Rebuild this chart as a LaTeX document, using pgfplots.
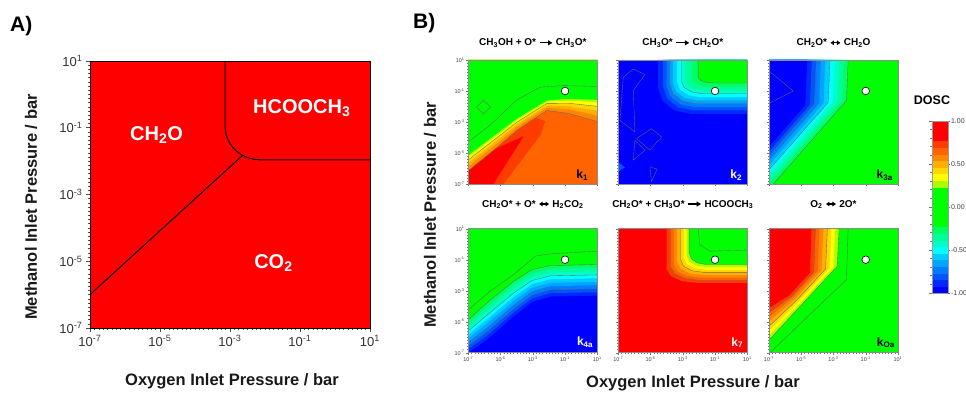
\documentclass[border=0pt]{standalone}
\usepackage{pgfplots}
\pgfplotsset{compat=1.18}
\usetikzlibrary{arrows.meta}
\usepackage{fontspec}
\setmainfont{Liberation Sans}
\newcommand{\sub}[1]{\textsubscript{#1}}
\newcommand{\pw}[1]{10\textsuperscript{#1}}
\newcommand{\ra}{\tikz[baseline=-0.6ex]\draw[line width=1.3pt,-{Triangle[length=4.5pt,width=5pt]}] (0,0)--(13pt,0);}
\newcommand{\lr}{\tikz[baseline=-0.6ex]\draw[line width=1.2pt,{Triangle[length=3.5pt,width=4.5pt]}-{Triangle[length=3.5pt,width=4.5pt]}] (0,0)--(10pt,0);}
\newcommand{\reg}[2]{\addplot[fill=#1, draw=none] coordinates {#2} -- cycle;}
\newcommand{\cl}[1]{\addplot[black!60, line width=0.35pt] coordinates {#1};}
\definecolor{b1}{RGB}{0,0,255}
\definecolor{b2}{RGB}{0,40,255}
\definecolor{b3}{RGB}{0,85,255}
\definecolor{b4}{RGB}{0,125,255}
\definecolor{b5}{RGB}{0,165,255}
\definecolor{b6}{RGB}{0,205,255}
\definecolor{b7}{RGB}{0,255,255}
\definecolor{b8}{RGB}{0,255,200}
\definecolor{b9}{RGB}{0,255,155}
\definecolor{b10}{RGB}{0,255,100}
\definecolor{gg}{RGB}{0,255,0}
\definecolor{r1}{RGB}{170,255,0}
\definecolor{r2}{RGB}{255,255,0}
\definecolor{r3}{RGB}{255,215,0}
\definecolor{r4}{RGB}{255,175,0}
\definecolor{r5}{RGB}{255,135,0}
\definecolor{r6}{RGB}{255,100,0}
\definecolor{r7}{RGB}{255,60,0}
\definecolor{r8}{RGB}{255,0,0}
\tikzset{klab/.style={anchor=south east, inner sep=0pt, font=\bfseries\fontsize{12}{12}\selectfont}}
\pgfplotsset{
  colormap={dosc}{
    rgb255=(0,0,255) rgb255=(0,40,255) rgb255=(0,85,255) rgb255=(0,125,255)
    rgb255=(0,165,255) rgb255=(0,205,255) rgb255=(0,255,255) rgb255=(0,255,200)
    rgb255=(0,255,155) rgb255=(0,255,100) rgb255=(0,255,0) rgb255=(0,255,0)
    rgb255=(0,255,0) rgb255=(0,255,0) rgb255=(0,255,0) rgb255=(0,255,0)
    rgb255=(170,255,0) rgb255=(255,255,0) rgb255=(255,215,0) rgb255=(255,175,0)
    rgb255=(255,135,0) rgb255=(255,100,0) rgb255=(255,60,0) rgb255=(255,0,0)
    rgb255=(255,0,0) rgb255=(255,0,0)
  },
  dpanel/.style={
    scale only axis, width=129pt, height=124pt,
    xmin=-7, xmax=1, ymin=-7, ymax=1,
    xtick={-7,-5,-3,-1,1}, ytick={-7,-5,-3,-1,1},
    xticklabels={}, yticklabels={},
    minor tick num=9,
    tick align=outside, xtick pos=left, ytick pos=left,
    major tick length=2pt, minor tick length=1.2pt,
    tick style={black!55, line width=0.3pt},
    axis line style={black!45, line width=0.4pt},
    tick label style={font=\fontsize{5.5}{6}\selectfont, text=black!75, inner sep=1.5pt},
    title style={at={(0.5,1)}, anchor=base, yshift=8pt, inner sep=0pt, font=\bfseries\fontsize{10}{10}\selectfont},
    axis on top, clip=true,
  },
  ylabs/.style={yticklabels={\pw{-7},\pw{-5},\pw{-3},\pw{-1},\pw{1}}},
  xlabs/.style={xticklabels={\pw{-7},\pw{-5},\pw{-3},\pw{-1},\pw{1}}},
  dot/.style={only marks, mark=*, mark size=3.8pt, mark options={fill=white, draw=black, line width=0.6pt}},
}
\begin{document}
\begin{tikzpicture}
\useasboundingbox (0,0) rectangle (966pt,395pt);
% ---------------- Panel A ----------------
\begin{axis}[name=A, at={(90pt,67pt)}, anchor=south west, scale only axis,
  width=280pt, height=267pt,
  xmin=-7, xmax=1, ymin=-7, ymax=1,
  xtick={-7,-5,-3,-1,1}, ytick={-7,-5,-3,-1,1},
  xticklabels={\pw{-7},\pw{-5},\pw{-3},\pw{-1},\pw{1}},
  yticklabels={\pw{-7},\pw{-5},\pw{-3},\pw{-1},\pw{1}},
  minor tick num=15, tick align=outside, xtick pos=left, ytick pos=left,
  major tick length=4pt, minor tick length=2.5pt,
  tick style={black!70, line width=0.5pt},
  tick label style={font=\fontsize{13}{13}\selectfont, text=black!80},
  axis line style={black, line width=0.9pt}, axis on top]
\reg{red}{(-7,-7) (1,-7) (1,1) (-7,1)}
\addplot[black, line width=1pt] coordinates {(-7,-6) (-2.64,-1.827)};
\addplot[black, line width=1pt] coordinates {(-3.14,1) (-3.14,-0.97) (-3.125,-1.142) (-3.080,-1.309) (-3.006,-1.465) (-2.906,-1.607) (-2.783,-1.728) (-2.64,-1.827) (-2.482,-1.901) (-2.314,-1.945) (-2.14,-1.96) (1,-1.96)};
\node[text=white, font=\bfseries\fontsize{20}{20}\selectfont] at (axis cs:-5.1,-1.21) {CH\sub{2}O};
\node[text=white, font=\bfseries\fontsize{20}{20}\selectfont] at (axis cs:-0.95,-0.42) {HCOOCH\sub{3}};
\node[text=white, font=\bfseries\fontsize{20}{20}\selectfont] at (axis cs:-1.76,-5.05) {CO\sub{2}};
\end{axis}
% ---------------- k1 ----------------
\begin{axis}[dpanel, name=k1, at={(468.3pt,211pt)}, anchor=south west, ylabs,
  title={CH\sub{3}OH + O* \ra{} CH\sub{3}O*}]
\reg{r6}{(-7,-7) (1,-7) (1,1) (-7,1)}
\reg{r7}{(-7,-7) (-7,-4) (-3.2,-2.6) (-2.22,-2.94) (-2.53,-3.86) (-4.82,-7)}
\reg{r8}{(-7,-7) (-7,-5.5) (-3.57,-3.92) (-5.44,-7)}
\reg{r5}{(-7,-6.14) (-5.23,-4.65) (-3.99,-3.54) (-3.15,-2.95) (-2.11,-2.26) (-0.76,-2.45) (1,-2.97) (1,1) (-7,1)}
\reg{r4}{(-7,-5.86) (-5.23,-4.40) (-3.99,-3.33) (-3.15,-2.75) (-2.11,-2.08) (-0.76,-2.18) (1,-2.58) (1,1) (-7,1)}
\reg{r3}{(-7,-5.64) (-5.23,-4.20) (-3.99,-3.17) (-3.15,-2.60) (-2.11,-1.94) (-0.76,-1.98) (1,-2.27) (1,1) (-7,1)}
\reg{r2}{(-7,-5.44) (-5.23,-4.02) (-3.99,-3.02) (-3.15,-2.46) (-2.11,-1.80) (-0.76,-1.79) (1,-1.99) (1,1) (-7,1)}
\reg{r1}{(-7,-5.26) (-5.23,-3.86) (-3.99,-2.88) (-3.15,-2.33) (-2.11,-1.69) (-0.76,-1.61) (1,-1.74) (1,1) (-7,1)}
\reg{gg}{(-7,-5.14) (-5.23,-3.75) (-3.99,-2.79) (-3.15,-2.25) (-2.11,-1.61) (-0.76,-1.50) (1,-1.57) (1,1) (-7,1)}
\cl{(-7,-4.28) (-5.65,-3.21) (-3.99,-1.57) (-2.53,-0.75) (-1.07,-0.65) (1,-0.71)}
\cl{(-7,-5.44) (-5.23,-4.02) (-3.99,-3.02) (-3.15,-2.46) (-2.11,-1.80) (-0.76,-1.79) (1,-1.99)}
\cl{(-7,-6.14) (-5.23,-4.65) (-3.99,-3.54) (-3.15,-2.95) (-2.11,-2.26) (-0.76,-2.45) (1,-2.97)}
\cl{(-6.5,-2.04) (-6.06,-1.6) (-5.62,-2.04) (-6.06,-2.48) (-6.5,-2.04)}
\addplot[dot] coordinates {(-1,-1)};
\end{axis}
\node[klab] at ([xshift=-9pt,yshift=3.5pt]k1.south east) {k\sub{1}};
% ---------------- k2 ----------------
\begin{axis}[dpanel, name=k2, at={(618.3pt,211pt)}, anchor=south west,
  title={CH\sub{3}O* \ra{} CH\sub{2}O*}]
\reg{b1}{(-7,-7) (1,-7) (1,1) (-7,1)}
\reg{b3}{(-7,-5.57) (-6.59,-5.93) (-7,-6.2)}
\reg{b2}{(-4.53,1) (-4.53,-0.80) (-4.26,-1.64) (-3.53,-2.25) (-2.53,-2.47) (1,-2.47) (1,1)}
\reg{b3}{(-4.22,1) (-4.22,-0.72) (-3.97,-1.49) (-3.28,-2.05) (-2.34,-2.25) (1,-2.25) (1,1)}
\reg{b4}{(-4.01,1) (-4.01,-0.66) (-3.77,-1.35) (-3.13,-1.86) (-2.24,-2.04) (1,-2.04) (1,1)}
\reg{b5}{(-3.80,1) (-3.80,-0.58) (-3.58,-1.20) (-2.98,-1.65) (-2.15,-1.82) (1,-1.82) (1,1)}
\reg{b6}{(-3.60,1) (-3.60,-0.51) (-3.40,-1.06) (-2.84,-1.46) (-2.07,-1.61) (1,-1.61) (1,1)}
\reg{b7}{(-3.35,1) (-3.35,-0.45) (-3.16,-0.93) (-2.64,-1.27) (-1.93,-1.40) (1,-1.40) (1,1)}
\reg{b8}{(-3.08,1) (-3.08,-0.37) (-2.91,-0.78) (-2.43,-1.07) (-1.78,-1.18) (1,-1.18) (1,1)}
\reg{b9}{(-2.81,1) (-2.81,-0.30) (-2.65,-0.64) (-2.22,-0.88) (-1.63,-0.97) (1,-0.97) (1,1)}
\reg{b10}{(-2.46,1) (-2.46,-0.23) (-2.32,-0.49) (-1.93,-0.68) (-1.39,-0.75) (1,-0.75) (1,1)}
\reg{gg}{(-2.05,1) (-2.05,-0.10) (-1.92,-0.29) (-1.58,-0.43) (-1.10,-0.48) (1,-0.48) (1,1)}
\cl{(-2.05,1) (-2.05,-0.10) (-1.92,-0.29) (-1.58,-0.43) (-1.10,-0.48) (1,-0.48)}
\cl{(-3.08,1) (-3.08,-0.37) (-2.91,-0.78) (-2.43,-1.07) (-1.78,-1.18) (1,-1.18)}
\cl{(-3.80,1) (-3.80,-0.58) (-3.58,-1.20) (-2.98,-1.65) (-2.15,-1.82) (1,-1.82)}
\cl{(-6.69,-0.11) (-6.07,0.42) (-5.35,0.06) (-6.07,-0.97) (-5.97,-3.64) (-6.90,-2.89) (-6.69,-0.11)}
\cl{(-5.87,-4.07) (-4.94,-3.43) (-4.32,-3.96) (-5.04,-4.82) (-5.87,-4.07)}
\cl{(-5.97,-4.18) (-5.35,-4.82) (-6.07,-5.46) (-5.97,-4.18)}
\cl{(-5.04,-5.89) (-4.59,-6.04) (-4.94,-6.85) (-5.04,-5.89)}
\addplot[dot] coordinates {(-1,-1)};
\end{axis}
\node[klab, text=white] at ([xshift=-5pt,yshift=3.5pt]k2.south east) {k\sub{2}};
% ---------------- k3a ----------------
\begin{axis}[dpanel, name=k3, at={(769pt,211pt)}, anchor=south west,
  title={CH\sub{2}O* \lr{} CH\sub{2}O},
  colormap name=dosc, colormap access=piecewise constant,
  point meta min=-1, point meta max=1,
  colorbar,
  colorbar style={at={(parent axis.north east)}, anchor=north west,
    xshift=25.3pt, yshift=-60.7pt, scale only axis, width=16pt, height=172pt,
    ytick={-1,-0.5,0,0.5,1}, yticklabels={-1.00,-0.50,0.00,0.50,1.00},
    minor y tick num=4, tick align=outside,
    major tick length=2.5pt, minor tick length=1.5pt,
    tick style={black!55, line width=0.3pt},
    axis line style={black!40, line width=0.3pt},
    yticklabel style={font=\fontsize{7}{7}\selectfont, text=black!75, inner sep=0.5pt}}]
\reg{gg}{(-7,-7) (1,-7) (1,1) (-7,1)}
\reg{b10}{(-7,1) (-2.09,1) (-2.19,-1.61) (-6.73,-7) (-7,-7)}
\reg{b9}{(-7,1) (-2.37,1) (-2.47,-1.64) (-7,-6.97)}
\reg{b8}{(-7,1) (-2.65,1) (-2.76,-1.67) (-7,-6.68)}
\reg{b7}{(-7,1) (-2.94,1) (-3.04,-1.71) (-7,-6.38)}
\reg{b6}{(-7,1) (-3.22,1) (-3.33,-1.74) (-7,-6.08)}
\reg{b5}{(-7,1) (-3.50,1) (-3.61,-1.77) (-7,-5.79)}
\reg{b4}{(-7,1) (-3.78,1) (-3.89,-1.80) (-7,-5.49)}
\reg{b3}{(-7,1) (-4.07,1) (-4.18,-1.83) (-7,-5.19)}
\reg{b2}{(-7,1) (-4.35,1) (-4.46,-1.87) (-7,-4.90)}
\reg{b1}{(-7,1) (-4.63,1) (-4.75,-1.90) (-7,-4.60)}
\cl{(-2.09,1) (-2.19,-1.61) (-6.73,-7)}
\cl{(-3.22,1) (-3.33,-1.74) (-7,-6.08)}
\cl{(-4.07,1) (-4.18,-1.83) (-7,-5.19)}
\cl{(-7,0.3) (-5.5,-1.0) (-7,-1.8)}
\addplot[dot] coordinates {(-1,-1)};
\end{axis}
\node[klab] at ([xshift=-5pt,yshift=3.5pt]k3.south east) {k\sub{3a}};
% ---------------- k4a ----------------
\begin{axis}[dpanel, name=k4, at={(468.3pt,42.3pt)}, anchor=south west, ylabs, xlabs,
  title style={yshift=7.5pt}, title={CH\sub{2}O* + O* \lr{} H\sub{2}CO\sub{2}}]
\reg{b1}{(-7,-7) (1,-7) (1,1) (-7,1)}
\reg{b2}{(-7,-7.00) (-5.86,-6.18) (-4.19,-4.66) (-3.05,-3.73) (-1.91,-3.37) (1,-3.32) (1,1) (-7,1)}
\reg{b3}{(-7,-6.76) (-5.86,-5.92) (-4.19,-4.41) (-3.05,-3.50) (-1.91,-3.15) (1,-3.10) (1,1) (-7,1)}
\reg{b4}{(-7,-6.53) (-5.86,-5.65) (-4.19,-4.16) (-3.05,-3.27) (-1.91,-2.93) (1,-2.87) (1,1) (-7,1)}
\reg{b5}{(-7,-6.29) (-5.86,-5.39) (-4.19,-3.90) (-3.05,-3.03) (-1.91,-2.71) (1,-2.65) (1,1) (-7,1)}
\reg{b6}{(-7,-6.06) (-5.86,-5.12) (-4.19,-3.65) (-3.05,-2.80) (-1.91,-2.49) (1,-2.43) (1,1) (-7,1)}
\reg{b7}{(-7,-5.82) (-5.86,-4.86) (-4.19,-3.40) (-3.05,-2.57) (-1.91,-2.26) (1,-2.20) (1,1) (-7,1)}
\reg{b8}{(-7,-5.59) (-5.86,-4.59) (-4.19,-3.15) (-3.05,-2.34) (-1.91,-2.04) (1,-1.98) (1,1) (-7,1)}
\reg{b9}{(-7,-5.35) (-5.86,-4.33) (-4.19,-2.89) (-3.05,-2.10) (-1.91,-1.82) (1,-1.76) (1,1) (-7,1)}
\reg{b10}{(-7,-5.12) (-5.86,-4.06) (-4.19,-2.64) (-3.05,-1.87) (-1.91,-1.60) (1,-1.53) (1,1) (-7,1)}
\reg{gg}{(-7,-4.88) (-5.86,-3.80) (-4.19,-2.39) (-3.05,-1.64) (-1.91,-1.38) (1,-1.31) (1,1) (-7,1)}
\cl{(-7,-4.23) (-5.65,-3.04) (-4.19,-1.96) (-2.84,-0.77) (-1.91,-0.62) (1,-0.45)}
\cl{(-7,-4.88) (-5.86,-3.80) (-4.19,-2.39) (-3.05,-1.64) (-1.91,-1.38) (1,-1.31)}
\cl{(-7,-5.59) (-5.86,-4.59) (-4.19,-3.15) (-3.05,-2.34) (-1.91,-2.04) (1,-1.98)}
\cl{(-7,-6.53) (-5.86,-5.65) (-4.19,-4.16) (-3.05,-3.27) (-1.91,-2.93) (1,-2.87)}
\addplot[dot] coordinates {(-1,-1)};
\end{axis}
\node[klab, text=white] at ([xshift=-4pt,yshift=5pt]k4.south east) {k\sub{4a}};
% ---------------- k7 ----------------
\begin{axis}[dpanel, name=k7, at={(618.3pt,42.3pt)}, anchor=south west, xlabs,
  title style={yshift=7.5pt}, title={CH\sub{2}O* + CH\sub{3}O* \ra{} HCOOCH\sub{3}}]
\reg{r8}{(-7,-7) (1,-7) (1,1) (-7,1)}
\reg{r7}{(-4.01,1) (-4.01,-1.60) (-3.75,-2.05) (-3.06,-2.38) (-2.11,-2.50) (1,-2.50) (1,1)}
\reg{r6}{(-3.76,1) (-3.76,-1.45) (-3.52,-1.89) (-2.87,-2.21) (-1.98,-2.33) (1,-2.33) (1,1)}
\reg{r5}{(-3.56,1) (-3.56,-1.30) (-3.34,-1.73) (-2.73,-2.05) (-1.90,-2.16) (1,-2.16) (1,1)}
\reg{r4}{(-3.35,1) (-3.35,-1.15) (-3.14,-1.57) (-2.58,-1.88) (-1.81,-1.99) (1,-1.99) (1,1)}
\reg{r3}{(-3.14,1) (-3.14,-1.01) (-2.95,-1.42) (-2.43,-1.71) (-1.71,-1.82) (1,-1.82) (1,1)}
\reg{r2}{(-2.94,1) (-2.94,-0.86) (-2.76,-1.26) (-2.29,-1.54) (-1.63,-1.65) (1,-1.65) (1,1)}
\reg{r1}{(-2.77,1) (-2.77,-0.71) (-2.61,-1.10) (-2.18,-1.38) (-1.58,-1.48) (1,-1.48) (1,1)}
\reg{gg}{(-2.61,1) (-2.61,-0.56) (-2.47,-0.94) (-2.08,-1.21) (-1.54,-1.31) (1,-1.31) (1,1)}
\cl{(-2.05,1) (-1.95,-0.02) (-1.33,-0.45) (1,-0.38)}
\cl{(-2.61,1) (-2.61,-0.56) (-2.47,-0.94) (-2.08,-1.21) (-1.54,-1.31) (1,-1.31)}
\cl{(-3.14,1) (-3.14,-1.01) (-2.95,-1.42) (-2.43,-1.71) (-1.71,-1.82) (1,-1.82)}
\cl{(-3.76,1) (-3.76,-1.45) (-3.52,-1.89) (-2.87,-2.21) (-1.98,-2.33) (1,-2.33)}
\addplot[dot] coordinates {(-1,-1)};
\end{axis}
\node[klab, text=white] at ([xshift=-4pt,yshift=4.5pt]k7.south east) {k\sub{7}};
% ---------------- kOa ----------------
\begin{axis}[dpanel, name=kO, at={(769pt,42.3pt)}, anchor=south west, xlabs,
  title style={yshift=7.5pt}, title={O\sub{2} \lr{} 2O*}]
\reg{gg}{(-7,-7) (1,-7) (1,1) (-7,1)}
\reg{r1}{(-7,1) (-2.65,1) (-2.77,-1.42) (-4.885,-3.80) (-7,-6.18)}
\reg{r2}{(-7,1) (-2.89,1) (-3.01,-1.48) (-5.01,-3.73) (-7,-5.89)}
\reg{r3}{(-7,1) (-3.14,1) (-3.25,-1.54) (-5.13,-3.65) (-7,-5.59)}
\reg{r4}{(-7,1) (-3.38,1) (-3.49,-1.60) (-5.25,-3.58) (-7,-5.30)}
\reg{r5}{(-7,1) (-3.63,1) (-3.74,-1.67) (-5.37,-3.51) (-7,-5.00)}
\reg{r6}{(-7,1) (-3.87,1) (-3.98,-1.73) (-5.49,-3.43) (-7,-4.71)}
\reg{r7}{(-7,1) (-4.12,1) (-4.22,-1.79) (-5.61,-3.36) (-7,-4.41)}
\reg{r8}{(-7,1) (-4.36,1) (-4.46,-1.85) (-5.73,-3.29) (-7,-4.12)}
\cl{(-2.09,1) (-2.20,-2.29) (-6.94,-7)}
\cl{(-2.65,1) (-2.77,-1.42) (-4.885,-3.80) (-7,-6.18)}
\cl{(-3.38,1) (-3.49,-1.60) (-5.25,-3.58) (-7,-5.30)}
\cl{(-4.12,1) (-4.22,-1.79) (-5.61,-3.36) (-7,-4.41)}
\addplot[dot] coordinates {(-1,-1)};
\end{axis}
\node[klab] at ([xshift=-3pt,yshift=4.5pt]kO.south east) {k\sub{Oa}};
% ---------------- Labels ----------------
\node[anchor=west, inner sep=0pt, font=\bfseries\fontsize{21}{21}\selectfont] at (10pt,369pt) {A)};
\node[anchor=west, inner sep=0pt, font=\bfseries\fontsize{21}{21}\selectfont] at (413pt,371.5pt) {B)};
\node[font=\bfseries\fontsize{16.5}{16.5}\selectfont, text=black!90] at (232pt,14pt) {Oxygen Inlet Pressure / bar};
\node[rotate=90, font=\bfseries\fontsize{16.5}{16.5}\selectfont, text=black!90] at (31pt,188pt) {Methanol Inlet Pressure / bar};
\node[font=\bfseries\fontsize{16.5}{16.5}\selectfont, text=black!90] at (693pt,12pt) {Oxygen Inlet Pressure / bar};
\node[rotate=90, font=\bfseries\fontsize{16.5}{16.5}\selectfont, text=black!90] at (430pt,180pt) {Methanol Inlet Pressure / bar};
\node[font=\bfseries\fontsize{12.5}{12.5}\selectfont] at (932pt,295pt) {DOSC};
\end{tikzpicture}
\end{document}
